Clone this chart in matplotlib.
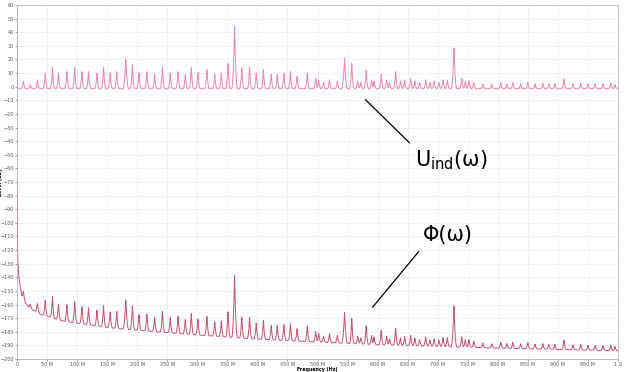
import numpy as np
import matplotlib
matplotlib.use('Agg')
import matplotlib.pyplot as plt

# peaks: frequency (MHz) and level (dB)
peak_mhz = [10.6, 22, 34, 47, 59, 69, 83, 96, 108, 119, 133, 144, 155, 166,
            181, 192, 203, 216, 229, 242, 255, 268, 280, 290, 301, 316, 329,
            340, 351, 362, 374, 387, 398, 410, 423, 433, 444, 455, 466, 483,
            497, 502, 510, 520, 533, 545, 557, 567, 572, 581, 590, 594, 606,
            615, 620, 630, 638, 645, 655, 662, 670, 680, 687, 694, 702, 709,
            716, 727, 740, 746, 752, 760, 775, 790, 805, 815, 825, 838, 850,
            862, 875, 885, 895, 910, 925, 938, 950, 962, 975, 988, 995]
u_peak_db = [4, 1.5, 5, 10, 14, 10, 11, 14, 11, 11, 10, 14, 10, 11,
             20, 16, 10, 11, 9, 14, 10, 11, 9, 14, 10, 12.5, 9,
             10, 17, 44, 14, 14, 10, 12.5, 9, 9, 10, 11, 7.5, 10,
             6, 5, 3, 5, 4, 21, 17, 4, 3, 12, 5, 4, 9,
             5, 3, 11, 4, 5, 6, 4, 3, 5, 3, 4, 3, 5,
             5, 28.5, 6, 4, 4, 3, 2, 1.5, 3, 2, 3, 2, 3,
             2, 2.5, 2, 2, 5.5, 2, 2.5, 2, 2, 2, 2.5, 1.5]
u_floor_db = -1.5
u_dc_db = 70

# floor of the lower trace (MHz, dB)
phi_knot_mhz = [0, 1, 3, 8, 19, 41, 80, 163, 274, 385, 497, 600, 800, 1000]
phi_knot_db = [-75, -125, -140, -154, -162, -167.5, -172.5, -177.5, -181.5,
               -185, -187.5, -189.5, -192, -194]

xtick_labels = ['0', '50 M', '100 M', '150 M', '200 M', '250 M', '300 M',
                '350 M', '400 M', '450 M', '500 M', '550 M', '600 M', '650 M',
                '700 M', '750 M', '800 M', '850 M', '900 M', '950 M', '1 G']

f = np.arange(0, 1000.05, 0.1)
rel = np.zeros_like(f)
for f0, lv in zip(peak_mhz, u_peak_db):
    h = lv - u_floor_db
    w = 5.0 if h > 20 else 4.0
    rel = np.maximum(rel, h * np.clip(1 - np.abs(f - f0) / w, 0, None) ** 2.2)

u = u_floor_db + rel
u[0] = u_dc_db
phi = np.interp(f, phi_knot_mhz, phi_knot_db) + rel

fig = plt.figure(figsize=(6.27, 3.72), dpi=100)
ax = fig.add_axes([17 / 627, 13 / 372, 601 / 627, 354 / 372])
ax.plot(f, u, color='#ef86aa', lw=0.7)
ax.plot(f, phi, color='#c9526f', lw=0.7)

ax.set_xlim(0, 1000)
ax.set_ylim(-200, 60)
ax.set_xticks(np.arange(0, 1001, 50))
ax.set_xticklabels(xtick_labels)
ax.set_yticks(np.arange(-200, 61, 10))
ax.tick_params(labelsize=3.5, length=1.5, width=0.4, colors='#555555', pad=1)
ax.grid(True, color='#ececec', lw=0.5)
for s in ax.spines.values():
    s.set_color('#aaaaaa')
    s.set_linewidth(0.5)
ax.set_xlabel('Frequency (Hz)', fontsize=3.4, fontweight='bold', labelpad=0)
ax.set_ylabel('Level (dB)', fontsize=3.4, fontweight='bold')
ax.yaxis.set_label_coords(-13.5 / 601, 0.5)

ax.plot([580, 653], [-9.6, -41.2], color='black', lw=0.9)
ax.text(663, -58.8, r'U$_{\mathregular{ind}}$(ω)', fontsize=15, va='baseline')
ax.plot([668, 592], [-121.3, -161.8], color='black', lw=0.9)
ax.text(675, -108.8, 'Φ(ω)', fontsize=15, va='center')

fig.savefig('out.png', dpi=100)
